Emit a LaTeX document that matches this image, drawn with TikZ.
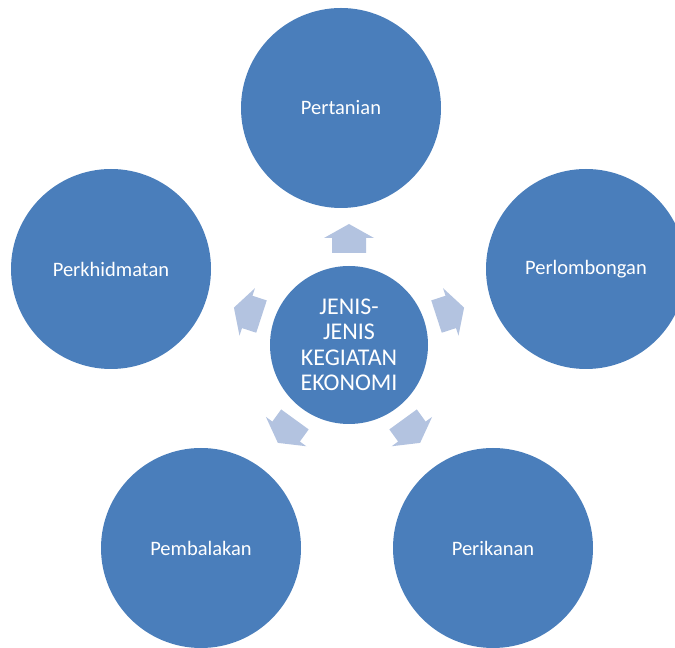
\documentclass[tikz,border=0pt]{standalone}
\usepackage{fontspec}
\setmainfont{Carlito}
\usetikzlibrary{calc}
\definecolor{cblue}{HTML}{4A7EBB}
\definecolor{ablue}{HTML}{B3C3E0}
\begin{document}
\begin{tikzpicture}[x=1pt,y=1pt,
  bigc/.style={circle,fill=cblue,minimum size=200pt,inner sep=0pt,text=white,font=\fontsize{20.5}{24}\selectfont},
  midc/.style={circle,fill=cblue,minimum size=158pt,inner sep=0pt,text=white,align=center,font=\fontsize{24}{25.5}\selectfont},
  blockarrow/.style={fill=ablue,draw=none}]
\useasboundingbox (0,0) rectangle (675,648);
\clip (0,0) rectangle (675,648);
\node[midc] (c) at (349,303) {JENIS-\\JENIS\\KEGIATAN\\EKONOMI};
\node[bigc] (n1) at (341,540) {Pertanian};
\node[bigc] (n2) at (586,379) {Perlombongan};
\node[bigc] (n3) at (493,100) {Perikanan};
\node[bigc] (n4) at (201,100) {Pembalakan};
\node[bigc] (n5) at (111,379) {Perkhidmatan};
\foreach \a/\n in {90/1,18/2,306/3,234/4,162/5}{
  \coordinate (ar\n) at ($(c)+(\a:106)$);
  \fill[blockarrow,shift={(ar\n)},rotate=\a]
    (-14,-17) -- (1,-17) -- (1,-25) -- (15,0) -- (1,25) -- (1,17) -- (-14,17) -- cycle;
}
\end{tikzpicture}
\end{document}
